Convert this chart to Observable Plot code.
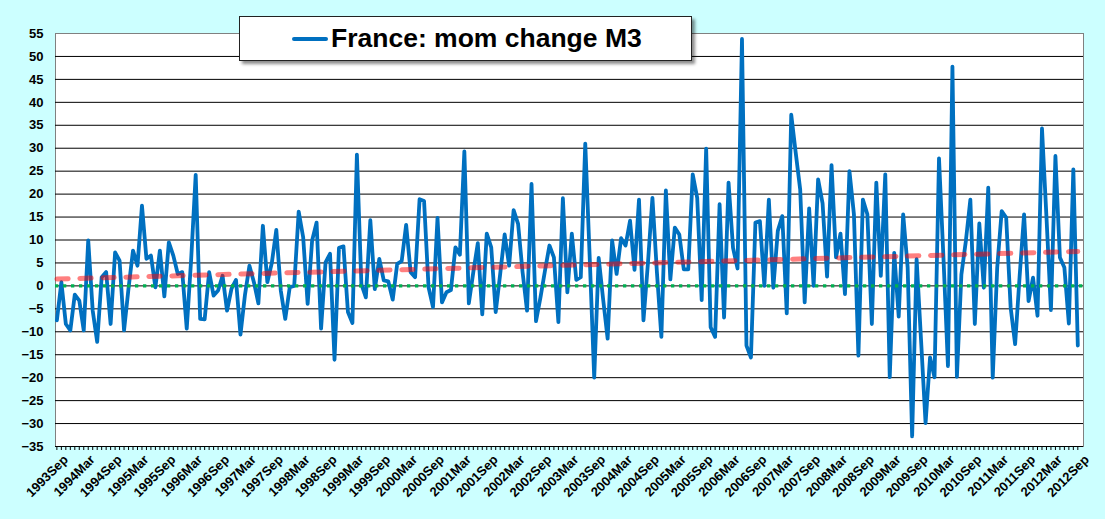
<!DOCTYPE html>
<html>
<head>
<meta charset="utf-8">
<script src="https://cdn.jsdelivr.net/npm/d3@7"></script>
<script src="https://cdn.jsdelivr.net/npm/@observablehq/plot@0.6"></script>
<style>
  html, body { margin: 0; padding: 0; background: #CCFFFF; }
  #wrap { position: relative; width: 1105px; height: 519px; overflow: hidden; font-family: "Liberation Sans", Arial, sans-serif; }
  #legend { position: absolute; left: 239px; top: 16px; width: 453px; height: 45px; box-sizing: border-box;
            background: #fff; border: 1px solid #222; box-shadow: 3px 3px 3px rgba(0,0,0,0.45); }
  #legend .sw { position: absolute; left: 52px; top: 20px; width: 36px; height: 4px; background: #0070C0; border-radius: 2px; }
  #legend .tx { position: absolute; left: 91px; top: 8px; font-size: 26.5px; line-height: 26.5px; font-weight: bold; color: #000; white-space: nowrap; }
</style>
</head>
<body>
<div id="wrap">
  <div id="chart"></div>
  <div id="legend"><span class="sw"></span><span class="tx">France: mom change M3</span></div>
</div>
<script>
// ---- data ----
const seriesName = "France: mom change M3";
const momChange = [
  -7.5, 0.8, -8.3, -9.7, -1.9, -3.2, -9.7, 9.9, -5.4, -12.2,
  1.9, 3.0, -8.3, 7.3, 5.5, -9.7, -0.5, 7.7, 4.4, 17.5,
  5.9, 6.6, -0.3, 7.7, -2.3, 9.5, 6.6, 2.6, 3.0, -9.3,
  6, 24.2, -7.2, -7.3, 3.0, -2.1, -1, 2.2, -5.4, -0.6,
  1.3, -10.6, -2, 4.4, 0.8, -3.8, 13.1, 0.8, 5, 12.2,
  -1, -7.2, -0.3, 0, 16.2, 10.6, -3.9, 9.9, 13.8, -9.3,
  5.1, 7, -16.1, 8.3, 8.6, -5.7, -8.1, 28.6, 0.4, -2.5,
  14.3, -0.7, 5.9, 1.2, 1, -3, 4.8, 5.4, 13.3, 3.0,
  1.9, 18.9, 18.5, -0.3, -4.6, 14.8, -3.6, -1.4, -0.9, 8.4,
  6.8, 29.3, -3.8, 3, 9.3, -6.2, 11.4, 8.4, -5.7, 2.6,
  11.2, 4.4, 16.5, 13.5, 3, -5.4, 22.2, -7.7, -2.5, 3.3,
  8.8, 6.2, -7.9, 19.1, -1.4, 11.4, 1.3, 1.9, 31, 6,
  -20, 6.1, -3, -11.5, 9.9, 2.6, 10.4, 8.8, 14.2, 3.5,
  18.8, -7.5, 5, 19.2, 3, -11.1, 20.8, 1.4, 12.7, 11.2,
  3.6, 3.6, 24.3, 19.2, -3.1, 29.9, -9, -11.1, 17.8, -6.9,
  22.5, 8.3, 3.8, 53.8, -13, -15.6, 13.8, 14.1, 0, 18.8,
  -0.4, 12, 15.2, -6, 37.3, 29, 21, -3.6, 16.9, 0,
  23.2, 18, 2, 26.3, 6.2, 11.4, -1.8, 25, 15.6, -15.2,
  18.8, 15.6, -8.3, 22.5, 2.2, 24.3, -19.9, 7.2, -6.7, 15.6,
  4, -32.8, 5.8, -12, -29.9, -15.6, -19.9, 27.8, 6, -17.5,
  47.8, -19.8, 2.5, 9.8, 18.8, -8.3, 13.6, -0.4, 21.4, -20,
  4, 16.3, 14.9, -4.7, -12.7, 2, 15.6, -3.3, 1.8, -6.5,
  34.3, 15, -5.3, 28.3, 6.2, 4, -8.2, 25.4, -13
];
// linear trend line end values (first month, last month)
const trendValues = [1.5, 7.5];
const zeroLine = [0];
const tickLabels = [
  "1993Sep","1994Mar","1994Sep","1995Mar","1995Sep","1996Mar","1996Sep","1997Mar",
  "1997Sep","1998Mar","1998Sep","1999Mar","1999Sep","2000Mar","2000Sep","2001Mar",
  "2001Sep","2002Mar","2002Sep","2003Mar","2003Sep","2004Mar","2004Sep","2005Mar",
  "2005Sep","2006Mar","2006Sep","2007Mar","2007Sep","2008Mar","2008Sep","2009Mar",
  "2009Sep","2010Mar","2010Sep","2011Mar","2011Sep","2012Mar","2012Sep"
];
const yTicks = [-35,-30,-25,-20,-15,-10,-5,0,5,10,15,20,25,30,35,40,45,50,55];

// ---- derived tables ----
const n = momChange.length;
const points = momChange.map((v, i) => ({i, v}));
const trend = [{i: 0, v: trendValues[0]}, {i: n - 1, v: trendValues[1]}];
const monthIdx = d3.range(n);
const labelIdx = tickLabels.map((_, k) => k * 6);
const gridVals = yTicks.filter(d => d < 55);

const chart = Plot.plot({
  width: 1105,
  height: 519,
  marginLeft: 55,
  marginRight: 22,
  marginTop: 33,
  marginBottom: 73,
  style: {background: "transparent", fontFamily: "'Liberation Sans', Arial, sans-serif", fontSize: "13px", fontWeight: "bold", color: "#000", overflow: "visible"},
  x: {domain: [-0.31, 229.27], axis: null},
  y: {domain: [-35, 55], axis: null},
  marks: [
    Plot.frame({fill: "white", stroke: "#808080"}),
    Plot.ruleY(gridVals, {stroke: "#000", strokeWidth: 1}),
    Plot.axisY({ticks: yTicks, tickSize: 0, tickPadding: 12, label: null, fontSize: 13, fontWeight: "bold", fill: "#000"}),
    Plot.axisX({ticks: monthIdx, tickSize: 4, tickFormat: () => "", label: null, stroke: "#000"}),
    Plot.axisX({ticks: labelIdx, tickSize: 0, tickPadding: 3, tickRotate: -45, label: null,
                tickFormat: d => tickLabels[d / 6], fontSize: 13, fontWeight: "bold", fill: "#000", dx: 9, dy: 8}),
    Plot.line(points, {x: "i", y: "v", stroke: "#0070C0", strokeWidth: 3.8, strokeLinejoin: "round", strokeLinecap: "round"}),
    Plot.ruleY(zeroLine, {stroke: "#00B050", strokeWidth: 3.3, strokeDasharray: "3.3,4.7"}),
    Plot.line(trend, {x: "i", y: "v", stroke: "#FF0000", strokeOpacity: 0.5, strokeWidth: 5, strokeDasharray: "11.3,11.7", strokeLinecap: "round"})
  ]
});
document.getElementById("chart").appendChild(chart);
</script>
</body>
</html>
